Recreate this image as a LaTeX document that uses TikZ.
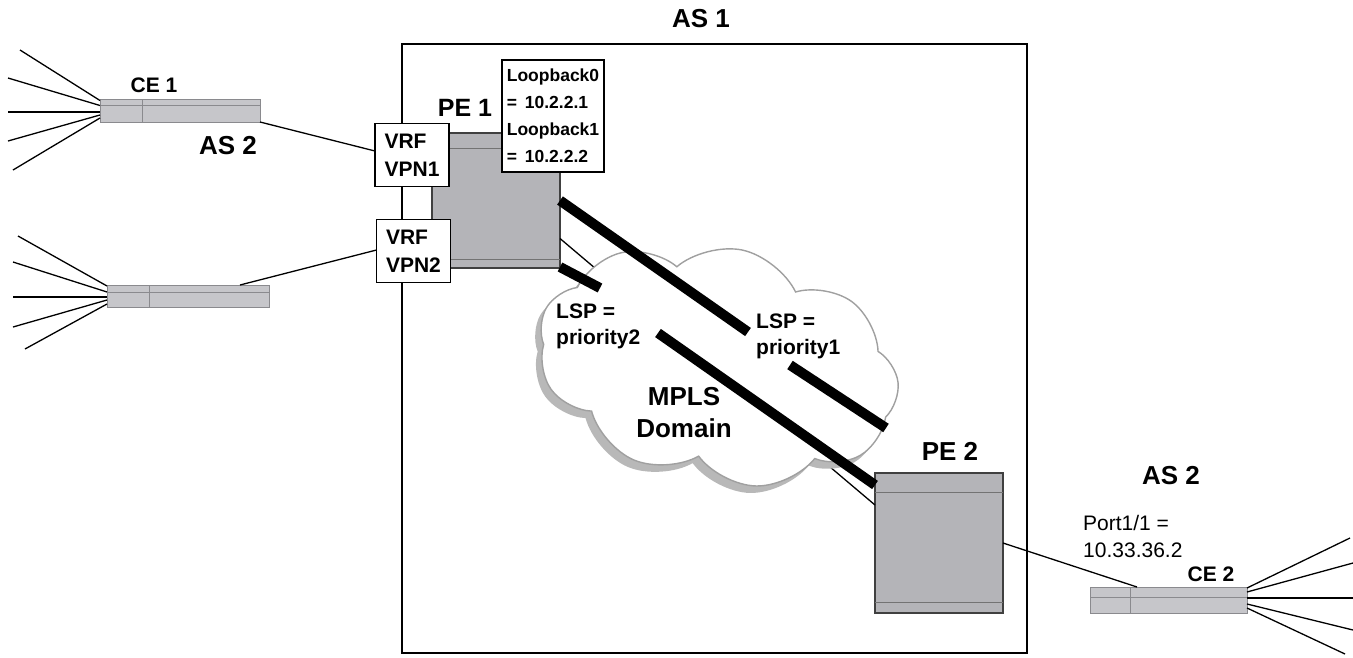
\documentclass[tikz,border=0pt]{standalone}
\usepackage{fontspec}
\setmainfont{Liberation Sans}
\usetikzlibrary{shapes.symbols,calc}
\definecolor{peGray}{HTML}{B4B4B8}
\definecolor{ceGray}{HTML}{C6C6CA}
\definecolor{edgeGray}{HTML}{8A8A8E}
\definecolor{cloudLine}{HTML}{A0A0A0}
\definecolor{cloudShadow}{HTML}{B8B8B8}
\begin{document}
\begin{tikzpicture}[x=1pt,y=-1pt,
  lbl/.style={inner sep=0pt, font=\fontsize{26}{30}\selectfont\bfseries},
  smalllbl/.style={inner sep=0pt, font=\fontsize{21}{26}\selectfont\bfseries},
  pebox/.style={draw=black!75, line width=1.6pt, fill=peGray, inner sep=0pt, outer sep=0pt},
  stripe/.style={draw=black!55, line width=0.9pt},
  vrfbox/.style={draw=black, line width=1.3pt, fill=white, align=left, inner sep=0pt, outer sep=0pt,
    minimum width=74pt, minimum height=63pt, font=\fontsize{21}{28}\selectfont\bfseries},
  cebar/.style={draw=edgeGray, line width=1pt, fill=ceGray, inner sep=0pt, outer sep=0pt},
  fan/.style={line width=1.3pt},
  link/.style={line width=1.3pt},
  lsp/.style={line width=10pt},
  cloudstyle/.style={cloud, cloud puffs=9, cloud puff arc=105, aspect=1.5, rotate=-12,
    minimum width=365pt, minimum height=235pt, inner sep=0pt}
]
\useasboundingbox (0,0) rectangle (1353,657);

% AS 1 domain box
\node[draw, line width=1.8pt, minimum width=625pt, minimum height=609pt, inner sep=0pt] (as1) at (714.5,348.5) {};
\node[lbl] (as1lbl) at (701,19) {AS 1};

% PE boxes
\node[pebox, minimum width=128pt, minimum height=135pt] (pe1) at (496,200.5) {};
\node[pebox, minimum width=128pt, minimum height=140pt] (pe2) at (939,543) {};

% thin physical link under the cloud
\draw[link] ($(pe1.east)+(0,38)$) -- ($(pe2.west)+(0,-38)$);

% cloud
\node[cloudstyle, fill=cloudShadow] (cloudsh) at (712,372) {};
\node[cloudstyle, fill=white, draw=cloudLine, line width=1.4pt] (cloud) at (718,365) {};

% PE stripes
\draw[stripe] ($(pe1.north west)+(0,15)$) -- ($(pe1.north east)+(0,15)$);
\draw[stripe] ($(pe1.south west)+(0,-9)$) -- ($(pe1.south east)+(0,-9)$);
\draw[stripe] ($(pe2.north west)+(0,19)$) -- ($(pe2.north east)+(0,19)$);
\draw[stripe] ($(pe2.south west)+(0,-11)$) -- ($(pe2.south east)+(0,-11)$);

% LSP lines
\coordinate (l1a) at (748,332);
\coordinate (l1b) at (790,365);
\coordinate (l1c) at (886,428);
\coordinate (l2a) at (600,288);
\coordinate (l2b) at (658,333);
\draw[lsp] (pe1.east) -- (l1a);
\draw[lsp] (l1b) -- (l1c);
\draw[lsp] ($(pe1.south east)+(0,-1)$) -- (l2a);
\draw[lsp] (l2b) -- ($(pe2.north west)+(0,12)$);

% CE bars
\node[cebar, minimum width=160pt, minimum height=23pt] (ce1) at (180,110.5) {};
\draw[edgeGray, line width=0.8pt] ($(ce1.north west)+(0,6)$) -- ($(ce1.north east)+(0,6)$);
\draw[edgeGray, line width=0.8pt] ($(ce1.north west)+(42,0)$) -- ($(ce1.south west)+(42,0)$);
\node[cebar, minimum width=162pt, minimum height=22pt] (ce3) at (188,296) {};
\draw[edgeGray, line width=0.8pt] ($(ce3.north west)+(0,7)$) -- ($(ce3.north east)+(0,7)$);
\draw[edgeGray, line width=0.8pt] ($(ce3.north west)+(42,0)$) -- ($(ce3.south west)+(42,0)$);
\node[cebar, minimum width=157pt, minimum height=26pt] (ce2) at (1168.5,600) {};
\draw[edgeGray, line width=0.8pt] ($(ce2.north west)+(0,10)$) -- ($(ce2.north east)+(0,10)$);
\draw[edgeGray, line width=0.8pt] ($(ce2.north west)+(40,0)$) -- ($(ce2.south west)+(40,0)$);

% fan lines CE1
\coordinate (a1) at (20,50);
\coordinate (a2) at (8,78);
\coordinate (a3) at (8,112);
\coordinate (a4) at (8,141);
\coordinate (a5) at (13,170);
\draw[fan] (a1) -- ($(ce1.west)+(0,-10)$);
\draw[fan] (a2) -- ($(ce1.west)+(0,-5)$);
\draw[fan] (a3) -- ($(ce1.west)+(0,1.5)$);
\draw[fan] (a4) -- ($(ce1.west)+(0,4.5)$);
\draw[fan] (a5) -- ($(ce1.west)+(0,7.5)$);
% fan lines second CE
\coordinate (b1) at (18,236);
\coordinate (b2) at (13,262);
\coordinate (b3) at (13,297);
\coordinate (b4) at (13,327);
\coordinate (b5) at (25,349);
\draw[fan] (b1) -- ($(ce3.west)+(0,-10)$);
\draw[fan] (b2) -- ($(ce3.west)+(0,-4)$);
\draw[fan] (b3) -- ($(ce3.west)+(0,1)$);
\draw[fan] (b4) -- ($(ce3.west)+(0,4)$);
\draw[fan] (b5) -- ($(ce3.west)+(0,8)$);
% fan lines CE2
\coordinate (c1) at (1350,538);
\coordinate (c2) at (1353,563);
\coordinate (c3) at (1353,598);
\coordinate (c4) at (1353,630);
\coordinate (c5) at (1345,654);
\draw[fan] ($(ce2.east)+(0,-12)$) -- (c1);
\draw[fan] ($(ce2.east)+(0,-8)$) -- (c2);
\draw[fan] ($(ce2.east)+(0,-2)$) -- (c3);
\draw[fan] ($(ce2.east)+(0,4)$) -- (c4);
\draw[fan] ($(ce2.east)+(0,8)$) -- (c5);

% VRF boxes and loopback box
\node[vrfbox] (vpn1) at (412,155) {VRF\\VPN1};
\node[vrfbox] (vpn2) at (413.5,251) {VRF\\VPN2};
\node[draw, fill=white, line width=1.1pt, align=left, inner sep=0pt, outer sep=0pt,
  minimum width=102pt, minimum height=112pt, font=\fontsize{17.5}{27}\selectfont\bfseries]
  (lb) at (553,116) {Loopback0\\=\hspace{0.45em}10.2.2.1\\Loopback1\\=\hspace{0.45em}10.2.2.2};

% access links
\draw[link] (ce1.south east) -- ($(vpn1.west)+(0,-4)$);
\draw[link] ($(ce3.north east)+(-29,0)$) -- ($(vpn2.west)+(0,-1)$);
\draw[link] (pe2.east) -- ($(ce2.north west)+(47,0)$);

% labels
\node[lbl, font=\fontsize{25}{30}\selectfont\bfseries] (pe1lbl) at (465,108) {PE 1};
\node[lbl] (as2a) at (228,146) {AS 2};
\node[smalllbl] (ce1lbl) at (154,85) {CE 1};
\node[lbl] (pe2lbl) at (950,451) {PE 2};
\node[lbl] (as2b) at (1171,476) {AS 2};
\node[smalllbl] (ce2lbl) at (1211,574) {CE 2};
\node[inner sep=0pt, anchor=west, align=left, font=\fontsize{21}{27}\selectfont] (port) at (1083,536) {Port1/1 =\\10.33.36.2};
\node[inner sep=0pt, anchor=west, align=left, font=\fontsize{21}{26}\selectfont\bfseries] (lsp2) at (556,326) {LSP =\\priority2};
\node[inner sep=0pt, anchor=west, align=left, font=\fontsize{21}{26}\selectfont\bfseries] (lsp1) at (756,336) {LSP =\\priority1};
\node[inner sep=0pt, align=center, font=\fontsize{26}{32}\selectfont\bfseries] (mpls) at (684,413) {MPLS\\Domain};
\end{tikzpicture}
\end{document}
